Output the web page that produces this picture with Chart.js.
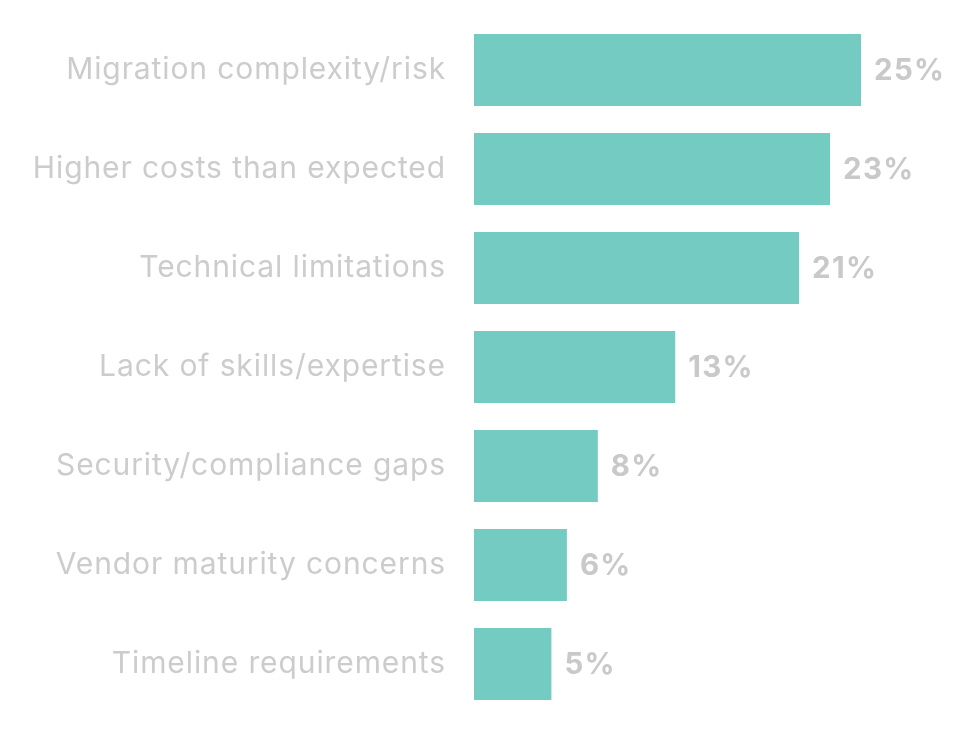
<!DOCTYPE html>
<html lang="en">
<head>
  <meta charset="utf-8">
  <title>Barriers chart</title>
  <script src="https://cdn.jsdelivr.net/npm/chart.js"></script>
  <style>
    body { margin: 0; background: #ffffff; }
    .wrap { width: 976px; height: 731px; }
  </style>
</head>
<body>
<div class="wrap">
  <canvas id="barChart" width="976" height="731"></canvas>
</div>

<script>
  const categories = [
    'Migration complexity/risk',
    'Higher costs than expected',
    'Technical limitations',
    'Lack of skills/expertise',
    'Security/compliance gaps',
    'Vendor maturity concerns',
    'Timeline requirements'
  ];
  const shares = [25, 23, 21, 13, 8, 6, 5];
  const valueLabels = ['25%', '23%', '21%', '13%', '8%', '6%', '5%'];

  // slightly wider lettering, closer to the original typeface
  const spacingPlugin = {
    id: 'spacing',
    beforeDraw(chart) {
      chart.ctx.letterSpacing = '0.9px';
    }
  };

  // draws the % next to each bar
  const valueLabelPlugin = {
    id: 'valueLabels',
    afterDatasetsDraw(chart) {
      const ctx = chart.ctx;
      const meta = chart.getDatasetMeta(0);
      ctx.save();
      ctx.letterSpacing = '1.3px';
      ctx.font = '700 29.5px Inter';
      ctx.fillStyle = '#c9c9c9';
      ctx.textAlign = 'left';
      ctx.textBaseline = 'middle';
      meta.data.forEach(function(bar, i) {
        ctx.fillText(valueLabels[i], bar.x + 13, bar.y + 1);
      });
      ctx.restore();
    }
  };

  new Chart(document.getElementById('barChart'), {
    type: 'bar',
    data: {
      labels: categories,
      datasets: [{
        data: shares,
        backgroundColor: '#74cbc2',
        borderWidth: 0,
        barPercentage: 0.727,
        categoryPercentage: 1
      }]
    },
    options: {
      indexAxis: 'y',
      responsive: false,
      animation: false,
      layout: { padding: { left: 0, right: 37.6, top: 20.5, bottom: 17.5 } },
      plugins: { legend: { display: false }, tooltip: { enabled: false } },
      scales: {
        x: { display: false, min: 0, max: 30 },
        y: {
          grid: { display: false },
          border: { display: false },
          afterFit: function(scale) {
            scale.width = 474;
            scale.paddingTop = 0;
            scale.paddingBottom = 0;
          },
          ticks: {
            padding: 20,
            color: '#cccccc',
            font: { family: 'Inter', size: 30, weight: '400' }
          }
        }
      }
    },
    plugins: [spacingPlugin, valueLabelPlugin]
  });
</script>
</body>
</html>
